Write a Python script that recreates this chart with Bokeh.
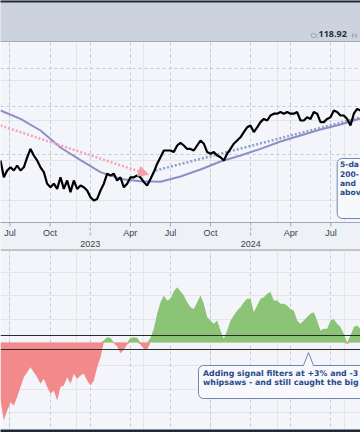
import numpy as np
from bokeh.plotting import figure
from bokeh.layouts import column
from bokeh.models import Range1d, FixedTicker, Grid, Span, Arrow, NormalHead
from bokeh.core.properties import value
from bokeh.embed import file_html
from bokeh.resources import INLINE

# ---------------- data ----------------
# x unit: months since 1 Jul 2022; series sampled roughly weekly
WEEK0 = -0.7105
WEEK_STEP = 0.2493

price = [110, 105.8, 107.5, 108.3, 107.5, 108.75, 107.5, 108.3, 110.8, 112.9,
         111.25, 110, 108.3, 107.1, 104.2, 103.3, 104.2, 102.9, 105.8, 102.9,
         105, 102.1, 105, 102.9, 103.75, 103.3, 102.5, 100.8, 100, 100.4,
         102.5, 104.2, 106.7, 106.25, 106.7, 105, 105.8, 103.3, 104.2, 105.8,
         105.8, 106.25, 105.8, 104.6, 103.75, 105.4, 107.1, 109.2, 110.8, 112.5,
         112.5, 112.5, 112.1, 113.75, 114.4, 113.75, 112.9, 112.9, 112.5, 113.75,
         115, 114.2, 112.1, 111.7, 112.1, 111.25, 110.8, 110, 111.7, 112.9,
         114.2, 115, 115.8, 117.1, 118.3, 118.75, 117.1, 118.3, 119.6, 120.4,
         120, 121.25, 121.7, 121.7, 122.1, 121.7, 122.1, 121.7, 121.7, 122.1,
         120, 120, 120.8, 120.4, 122.1, 121.7, 119.6, 119.6, 120.4, 120.8,
         122.5, 122.1, 121.25, 121.25, 120.4, 118.75, 121.7, 122.9, 122.5]

ma_every = 6  # one moving-average reading every 6 samples
ma200 = [122.5, 120.4, 117.5, 113.25, 110.1, 107.1, 105.4, 104.8, 104.7, 106,
         107.75, 109.75, 111.25, 112.9, 114.75, 116.25, 117.75, 119, 120.5]

indicator = [-24.9, -33.4, -29.1, -25.6, -27, -23.4, -19.1, -14.9, -12.7, -10.6,
             -12.7, -14.9, -17.7, -15.6, -19.1, -22, -20.6, -24.9, -19.1, -18.4,
             -14.9, -17.7, -13.4, -15.6, -14.1, -13.4, -16.3, -18.4, -16.3, -10.6,
             -6.3, 0.9, 2.3, 2, -0.3, -1.7, -4.6, -3.1, -0.9, 2,
             2.3, 2, -0.9, -2.7, -3.1, 2, 5.9, 12.3, 17.3, 20.1,
             18, 18.7, 22, 23.7, 22,
             20.1, 17.3, 15.1, 14.4, 17.3, 20.1, 16.6, 10.9, 9.4, 8,
             9.4, 5.1, 1.6, 5.1, 9.4, 11.6, 13.7, 15.1, 17.3, 18.7,
             18.7, 13, 15.9, 18.7, 19.4, 20.9, 21.6, 18, 18, 16.6,
             16.6, 15.9, 14.4, 13.7, 9.4, 8, 9.4, 10.9, 12.3, 13,
             9.4, 5.1, 5.9, 5.9, 9.4, 10.1, 8, 6.6, 3.7, -0.6,
             3, 6.6, 7.3, 5.9]

month_ticks = [0, 3, 6, 9, 12, 15, 18, 21, 24]
month_tick_x = [0, 3, 9, 12, 15, 21, 24]
month_labels = ["Jul", "Oct", "Apr", "Jul", "Oct", "Apr", "Jul"]
year_tick_x = [6, 18]
year_labels = ["2023", "2024"]
price_grid = [133, 123.6, 111.5]
filter_levels = [3, -3]

pink_trend_x = [-0.71, 10.36]
pink_trend_y = [118.75, 106.5]
blue_trend_x = [10.88, 26.2]
blue_trend_y = [107.5, 120.75]

header_label = "O:"
header_value = "118.92"
header_next = "H"
# the notes run off the right edge of the picture; only their visible starts are kept
note_top = ["5-da", "200-", "and", "abov"]
note_bottom = ["Adding signal filters at +3% and -3",
               "whipsaws - and still caught the big"]

# ---------------- styling ----------------
BG = "#f3f5fa"
GRID = "#c4c9d4"
NOTE_TXT = "#2a4a8a"
NOTE_LINE = "#7186b0"
NOTE_FILL = "#f8f9fd"
FONT = value("Open Sans")
NOTE_FONT = value("DejaVu Sans")

x_week = WEEK0 + WEEK_STEP * np.arange(len(price))
x_ma = WEEK0 + WEEK_STEP * ma_every * np.arange(len(ma200))
x_ind = WEEK0 + WEEK_STEP * np.arange(len(indicator))
ind = np.array(indicator, dtype=float)

W = 360
x_rng = Range1d(-0.7105, 26.215)

# ---------------- top panel ----------------
top = figure(width=W, height=249, x_range=x_rng, y_range=Range1d(87.75, 150),
             x_axis_location=None, y_axis_location=None, toolbar_location=None,
             output_backend="svg", min_border=0, background_fill_color=BG,
             border_fill_color=BG, outline_line_color=None)
top.extra_y_ranges = {"px": Range1d(249, 0)}
top.extra_x_ranges = {"px": Range1d(0, 360)}

top.add_layout(Grid(dimension=0, ticker=FixedTicker(ticks=month_ticks),
                    grid_line_color=GRID, grid_line_dash="3 3"))
top.add_layout(Grid(dimension=1, ticker=FixedTicker(ticks=price_grid),
                    grid_line_color=GRID, grid_line_dash="3 3"))

# header band
top.quad(left=-10, right=400, top=-10, bottom=41, x_range_name="px", y_range_name="px",
         fill_color="#cdd3de", line_color=None)
top.quad(left=-10, right=400, top=-10, bottom=2, x_range_name="px", y_range_name="px",
         fill_color="#1e2a3a", line_color=None)
top.segment(x0=-10, x1=400, y0=41, y1=41, x_range_name="px", y_range_name="px",
            line_color="#a3acbd", line_width=1)
top.text(x=[310], y=[33.5], text=[header_label], x_range_name="px", y_range_name="px",
         text_font=FONT, text_font_size="8px", text_color="#8a92a3",
         text_baseline="middle")
top.text(x=[318], y=[33.5], text=[header_value], x_range_name="px", y_range_name="px",
         text_font=FONT, text_font_size="9px", text_font_style="bold",
         text_color="#2b2f3a", text_baseline="middle")
top.text(x=[351], y=[33.5], text=[header_next], x_range_name="px", y_range_name="px",
         text_font=FONT, text_font_size="8px", text_color="#8a92a3",
         text_baseline="middle")

# axis band
top.quad(left=-10, right=400, top=222, bottom=260, x_range_name="px", y_range_name="px",
         fill_color="#eef1f6", line_color=None)
top.segment(x0=-10, x1=400, y0=222, y1=222, x_range_name="px", y_range_name="px",
            line_color="#9ea7b9", line_width=1)
top.segment(x0=month_tick_x, x1=month_tick_x, y0=222, y1=226, y_range_name="px",
            line_color="#9ea7b9", line_width=1)
top.segment(x0=year_tick_x, x1=year_tick_x, y0=222, y1=237, y_range_name="px",
            line_color="#9ea7b9", line_width=1, line_dash="3 2")
top.text(x=month_tick_x, y=232, text=month_labels, y_range_name="px",
         text_font=value("Liberation Sans"), text_font_size="9px", text_color="#3a3d45",
         text_align="center", text_baseline="middle")
top.text(x=year_tick_x, y=243, text=year_labels, y_range_name="px",
         text_font=value("Liberation Sans"), text_font_size="9px", text_color="#3a3d45",
         text_align="center", text_baseline="middle")

# trend lines
top.add_layout(Arrow(x_start=pink_trend_x[0], y_start=pink_trend_y[0],
                     x_end=pink_trend_x[1], y_end=pink_trend_y[1],
                     line_color="#f3a3b4", line_width=2.5, line_dash="2 2",
                     end=NormalHead(size=10, fill_color="#f1a0b0", line_color="#f1a0b0")))
top.line(blue_trend_x, blue_trend_y, line_color="#8da2c9", line_width=2.5, line_dash="2 2")

top.line(x_ma, ma200, line_color="#8f8fc6", line_width=2)
top.line(x_week, price, line_color="#000000", line_width=2.2)

# note box
top.quad(left=336.7, right=420, top=158, bottom=218, x_range_name="px", y_range_name="px",
         border_radius=5, fill_color=NOTE_FILL, line_color=NOTE_LINE, line_width=1)
top.text(x=[339.5] * 4, y=[163.5, 173, 182.5, 192], text=note_top,
         x_range_name="px", y_range_name="px", text_font=NOTE_FONT, text_font_size="7.6px",
         text_font_style="bold", text_color=NOTE_TXT, text_baseline="middle")

# ---------------- bottom panel ----------------
bot = figure(width=W, height=183, x_range=x_rng, y_range=Range1d(-38.57, 39.43),
             x_axis_location=None, y_axis_location=None, toolbar_location=None,
             output_backend="svg", min_border=0, min_border_top=1,
             background_fill_color=BG, border_fill_color="#1f1f1f",
             outline_line_color=None)
bot.extra_y_ranges = {"px": Range1d(432, 250)}
bot.extra_x_ranges = {"px": Range1d(0, 360)}
bot.add_layout(Grid(dimension=0, ticker=FixedTicker(ticks=month_ticks),
                    grid_line_color=GRID, grid_line_dash="3 3"))

bot.varea(x=x_ind, y1=0, y2=np.maximum(ind, 0), fill_color="#8cc477")
bot.varea(x=x_ind, y1=0, y2=np.minimum(ind, 0), fill_color="#f2898b")
for lvl in filter_levels:
    bot.add_layout(Span(location=lvl, dimension="width", line_color="#2b2b2b", line_width=1))

# callout
bot.quad(left=198, right=420, top=365, bottom=398, x_range_name="px", y_range_name="px",
         border_radius=5, fill_color=NOTE_FILL, line_color=NOTE_LINE, line_width=1)
bot.patch(x=[303, 308, 313], y=[365.6, 352, 365.6], x_range_name="px", y_range_name="px",
          fill_color=NOTE_FILL, line_color=None)
bot.multi_line(xs=[[303, 308], [308, 313]], ys=[[365, 352], [352, 365]],
               x_range_name="px", y_range_name="px", line_color=NOTE_LINE, line_width=1)
bot.text(x=[202.5, 202.5], y=[373, 382], text=note_bottom, x_range_name="px", y_range_name="px",
         text_font=NOTE_FONT, text_font_size="7.9px", text_font_style="bold",
         text_color=NOTE_TXT, text_baseline="middle")
# dark strip at the very bottom
bot.quad(left=-10, right=400, top=429, bottom=440, x_range_name="px", y_range_name="px",
         fill_color="#1e2a3a", line_color=None)

layout = column(top, bot, spacing=0)
open("out.html", "w").write(file_html(layout, INLINE))
